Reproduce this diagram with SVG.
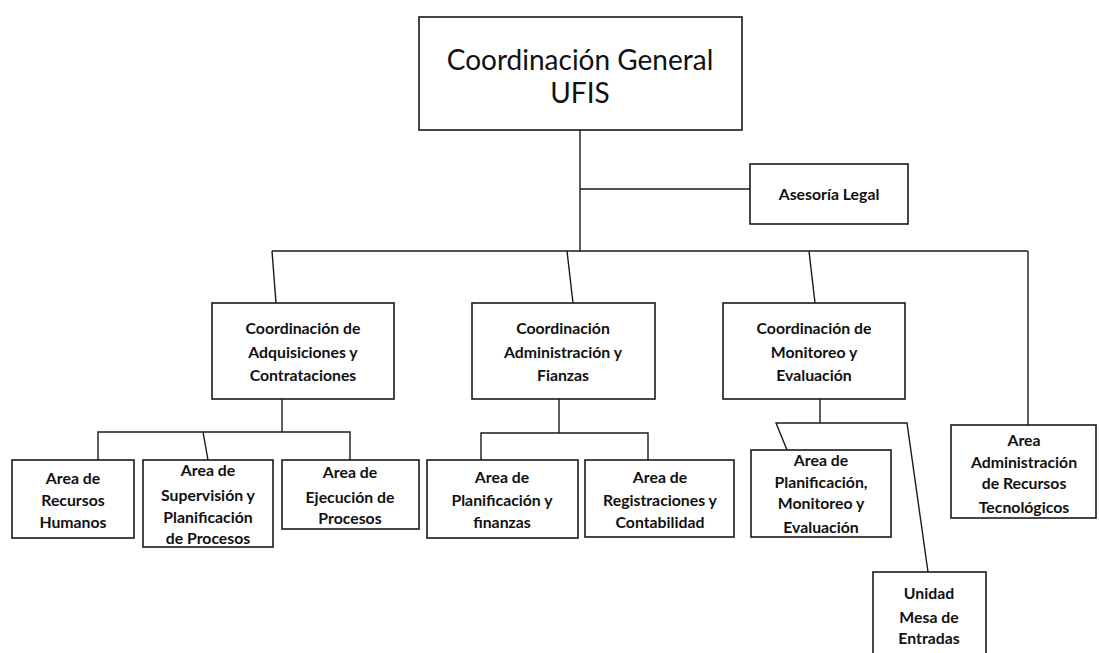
<svg xmlns="http://www.w3.org/2000/svg" width="1099" height="653" viewBox="0 0 1099 653">
<style>
.box{fill:#fff;stroke:#1a1a1a;stroke-width:1.6}
.ln{fill:none;stroke:#1a1a1a;stroke-width:1.4}
.t{font-family:Lato,"Open Sans",sans-serif;font-size:15.8px;font-weight:bold;fill:#111;text-anchor:middle}
.big{font-family:Lato,"Open Sans",sans-serif;font-size:28px;fill:#111;text-anchor:middle}
</style>
<rect width="1099" height="653" fill="#fff"/>
<g id="connectors">
<path class="ln" d="M580 130 V251"/>
<path class="ln" d="M580 189 H750"/>
<path class="ln" d="M272 251 H1028"/>
<path class="ln" d="M272 251 L276 303"/>
<path class="ln" d="M567 251 L573 303"/>
<path class="ln" d="M809 251 L815 303"/>
<path class="ln" d="M1028 251 V425"/>
<path class="ln" d="M282 399 V432"/>
<path class="ln" d="M98 460 V432 H350 V460"/>
<path class="ln" d="M203 432 L208 460"/>
<path class="ln" d="M559 399 V433"/>
<path class="ln" d="M481 460 V433 H648 V460"/>
<path class="ln" d="M820 399 V423"/>
<path class="ln" d="M787 450 L776 423 H907 L928 572"/>
</g>
<g id="n-general">
<rect class="box" x="419" y="17" width="323" height="113"/>
<text class="big" x="580" y="70">Coordinación General</text>
<text class="big" x="580" y="103">UFIS</text>
</g>
<g id="n-asesoria">
<rect class="box" x="750" y="164" width="158" height="60"/>
<text class="t" x="829" y="200">Asesoría Legal</text>
</g>
<g id="n-adquisiciones">
<rect class="box" x="212" y="303" width="182" height="96"/>
<text class="t" x="303" y="334">Coordinación de</text>
<text class="t" x="303" y="358">Adquisiciones y</text>
<text class="t" x="303" y="381">Contrataciones</text>
</g>
<g id="n-administracion">
<rect class="box" x="472" y="303" width="183" height="96"/>
<text class="t" x="563" y="334">Coordinación</text>
<text class="t" x="563" y="358">Administración y</text>
<text class="t" x="563" y="381">Fianzas</text>
</g>
<g id="n-monitoreo">
<rect class="box" x="723" y="303" width="182" height="96"/>
<text class="t" x="814" y="334">Coordinación de</text>
<text class="t" x="814" y="358">Monitoreo y</text>
<text class="t" x="814" y="381">Evaluación</text>
</g>
<g id="n-rrhh">
<rect class="box" x="12" y="460" width="122" height="78"/>
<text class="t" x="73" y="484">Area de</text>
<text class="t" x="73" y="506">Recursos</text>
<text class="t" x="73" y="528">Humanos</text>
</g>
<g id="n-supervision">
<rect class="box" x="143" y="460" width="130" height="87"/>
<text class="t" x="208" y="476">Area de</text>
<text class="t" x="208" y="501">Supervisión y</text>
<text class="t" x="208" y="523">Planificación</text>
<text class="t" x="208" y="544">de Procesos</text>
</g>
<g id="n-ejecucion">
<rect class="box" x="282" y="460" width="137" height="69"/>
<text class="t" x="350" y="478">Area de</text>
<text class="t" x="350" y="503">Ejecución de</text>
<text class="t" x="350" y="524">Procesos</text>
</g>
<g id="n-planfin">
<rect class="box" x="427" y="460" width="151" height="78"/>
<text class="t" x="502" y="483">Area de</text>
<text class="t" x="502" y="506">Planificación y</text>
<text class="t" x="502" y="528">finanzas</text>
</g>
<g id="n-registraciones">
<rect class="box" x="585" y="460" width="149" height="77"/>
<text class="t" x="660" y="483">Area de</text>
<text class="t" x="660" y="506">Registraciones y</text>
<text class="t" x="660" y="528">Contabilidad</text>
</g>
<g id="n-planmon">
<rect class="box" x="751" y="450" width="140" height="87"/>
<text class="t" x="821" y="466">Area de</text>
<text class="t" x="821" y="488">Planificación,</text>
<text class="t" x="821" y="509">Monitoreo y</text>
<text class="t" x="821" y="533">Evaluación</text>
</g>
<g id="n-tecnologicos">
<rect class="box" x="951" y="425" width="145" height="93"/>
<text class="t" x="1024" y="446">Area</text>
<text class="t" x="1024" y="468">Administración</text>
<text class="t" x="1024" y="489">de Recursos</text>
<text class="t" x="1024" y="513">Tecnológicos</text>
</g>
<g id="n-mesa">
<rect class="box" x="873" y="572" width="113" height="90"/>
<text class="t" x="929" y="599">Unidad</text>
<text class="t" x="929" y="623">Mesa de</text>
<text class="t" x="929" y="644">Entradas</text>
</g>
</svg>
